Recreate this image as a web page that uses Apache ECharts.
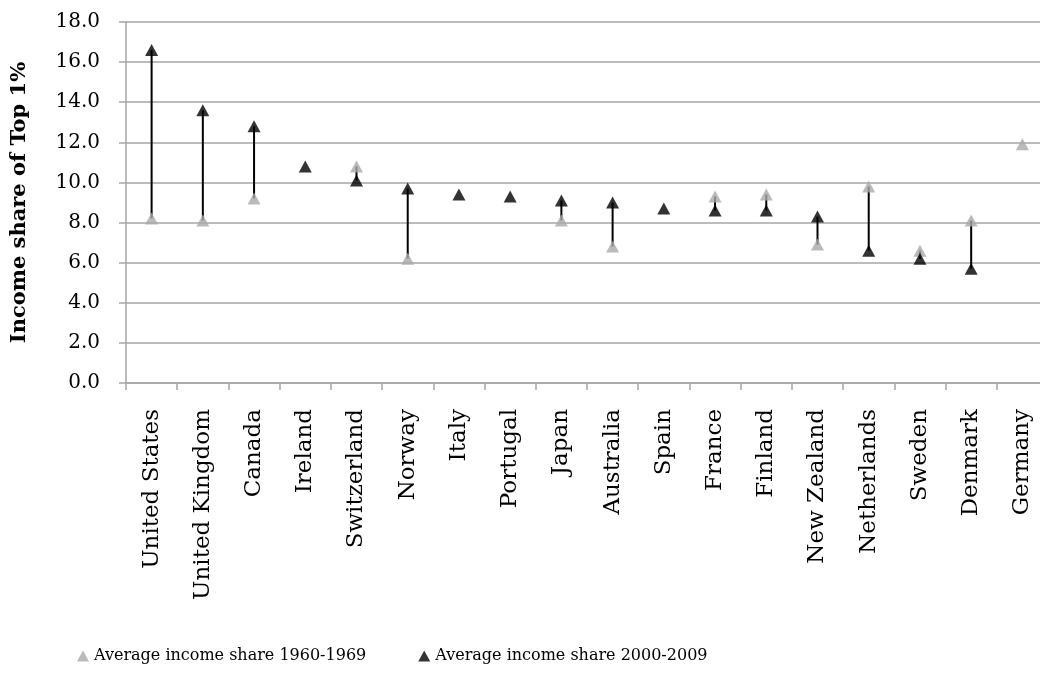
<!DOCTYPE html>
<html>
<head>
<meta charset="utf-8">
<script src="https://cdn.jsdelivr.net/npm/echarts@6/dist/echarts.min.js"></script>
<style>
  html, body { margin: 0; padding: 0; background: #fff; }
  #chart { width: 1040px; height: 680px; }
</style>
</head>
<body>
<div id="chart"></div>
<script>
// countries, ordered as in the figure
const countries = ['United States', 'United Kingdom', 'Canada', 'Ireland', 'Switzerland', 'Norway',
  'Italy', 'Portugal', 'Japan', 'Australia', 'Spain', 'France', 'Finland', 'New Zealand',
  'Netherlands', 'Sweden', 'Denmark', 'Germany']
// average income share of top 1%, 1960-1969 (null = no data)
const share1960s = [8.2, 8.1, 9.2, null, 10.8, 6.2, null, null, 8.1, 6.8, null, 9.3, 9.4, 6.9, 9.8, 6.6, 8.1, 11.9]
// average income share of top 1%, 2000-2009
const share2000s = [16.6, 13.6, 12.8, 10.8, 10.1, 9.7, 9.4, 9.3, 9.1, 9.0, 8.7, 8.6, 8.6, 8.3, 6.6, 6.2, 5.7, null]

const yTicks = { min: 0, max: 18, interval: 2 }

const fontFamily = '"DejaVu Serif", "Liberation Serif", serif'
const gray = '#a9a9a9'
const axisGray = '#a6a6a6'

// pairs where both periods exist get a connecting line
const links = []
countries.forEach((c, i) => {
  if (share1960s[i] != null && share2000s[i] != null) {
    links.push([i, share1960s[i], share2000s[i]])
  }
})

const chart = echarts.init(document.getElementById('chart'))
chart.setOption({
  animation: false,
  textStyle: { fontFamily: fontFamily },
  grid: {
    left: 126,
    right: -8,
    top: 22,
    bottom: 297,
    outerBoundsMode: 'none'
  },
  legend: {
    bottom: 11,
    left: 72,
    itemGap: 52,
    itemWidth: 12,
    itemHeight: 11,
    textStyle: { fontSize: 16, color: '#000', fontFamily: fontFamily },
    data: [
      { name: 'Average income share 1960-1969', icon: 'triangle' },
      { name: 'Average income share 2000-2009', icon: 'triangle' }
    ]
  },
  xAxis: {
    type: 'category',
    data: countries,
    boundaryGap: true,
    axisLine: { lineStyle: { color: axisGray, width: 1.5 } },
    axisTick: { show: true, length: 7, lineStyle: { color: axisGray, width: 1.5 } },
    axisLabel: {
      rotate: 90,
      interval: 0,
      margin: 26,
      fontSize: 23,
      color: '#000',
      fontFamily: fontFamily
    },
    splitLine: { show: false }
  },
  yAxis: {
    type: 'value',
    min: yTicks.min,
    max: yTicks.max,
    interval: yTicks.interval,
    name: 'Income share of Top 1%',
    nameLocation: 'middle',
    nameGap: 96,
    nameRotate: 90,
    nameTextStyle: { fontSize: 21, fontWeight: 'bold', color: '#000', fontFamily: fontFamily },
    axisLine: { show: true, lineStyle: { color: axisGray, width: 1.5 } },
    axisTick: { show: true, length: 7, lineStyle: { color: axisGray, width: 1.5 } },
    axisLabel: {
      margin: 26,
      fontSize: 20,
      color: '#000',
      fontFamily: fontFamily,
      formatter: v => v.toFixed(1)
    },
    splitLine: { show: true, lineStyle: { color: axisGray, width: 1.5 } }
  },
  series: [
    {
      type: 'custom',
      name: 'links',
      silent: true,
      z: 1,
      data: links,
      encode: { x: 0, y: [1, 2] },
      renderItem: (params, api) => {
        const a = api.coord([api.value(0), api.value(1)])
        const b = api.coord([api.value(0), api.value(2)])
        return {
          type: 'line',
          shape: { x1: a[0], y1: a[1], x2: b[0], y2: b[1] },
          style: { stroke: '#000', lineWidth: 2 }
        }
      }
    },
    {
      type: 'scatter',
      name: 'Average income share 1960-1969',
      symbol: 'triangle',
      symbolSize: [13, 12],
      z: 2,
      itemStyle: { color: gray },
      data: share1960s
    },
    {
      type: 'scatter',
      name: 'Average income share 2000-2009',
      symbol: 'triangle',
      symbolSize: [13, 12],
      z: 3,
      itemStyle: { color: '#000' },
      data: share2000s
    }
  ]
})
</script>
</body>
</html>
